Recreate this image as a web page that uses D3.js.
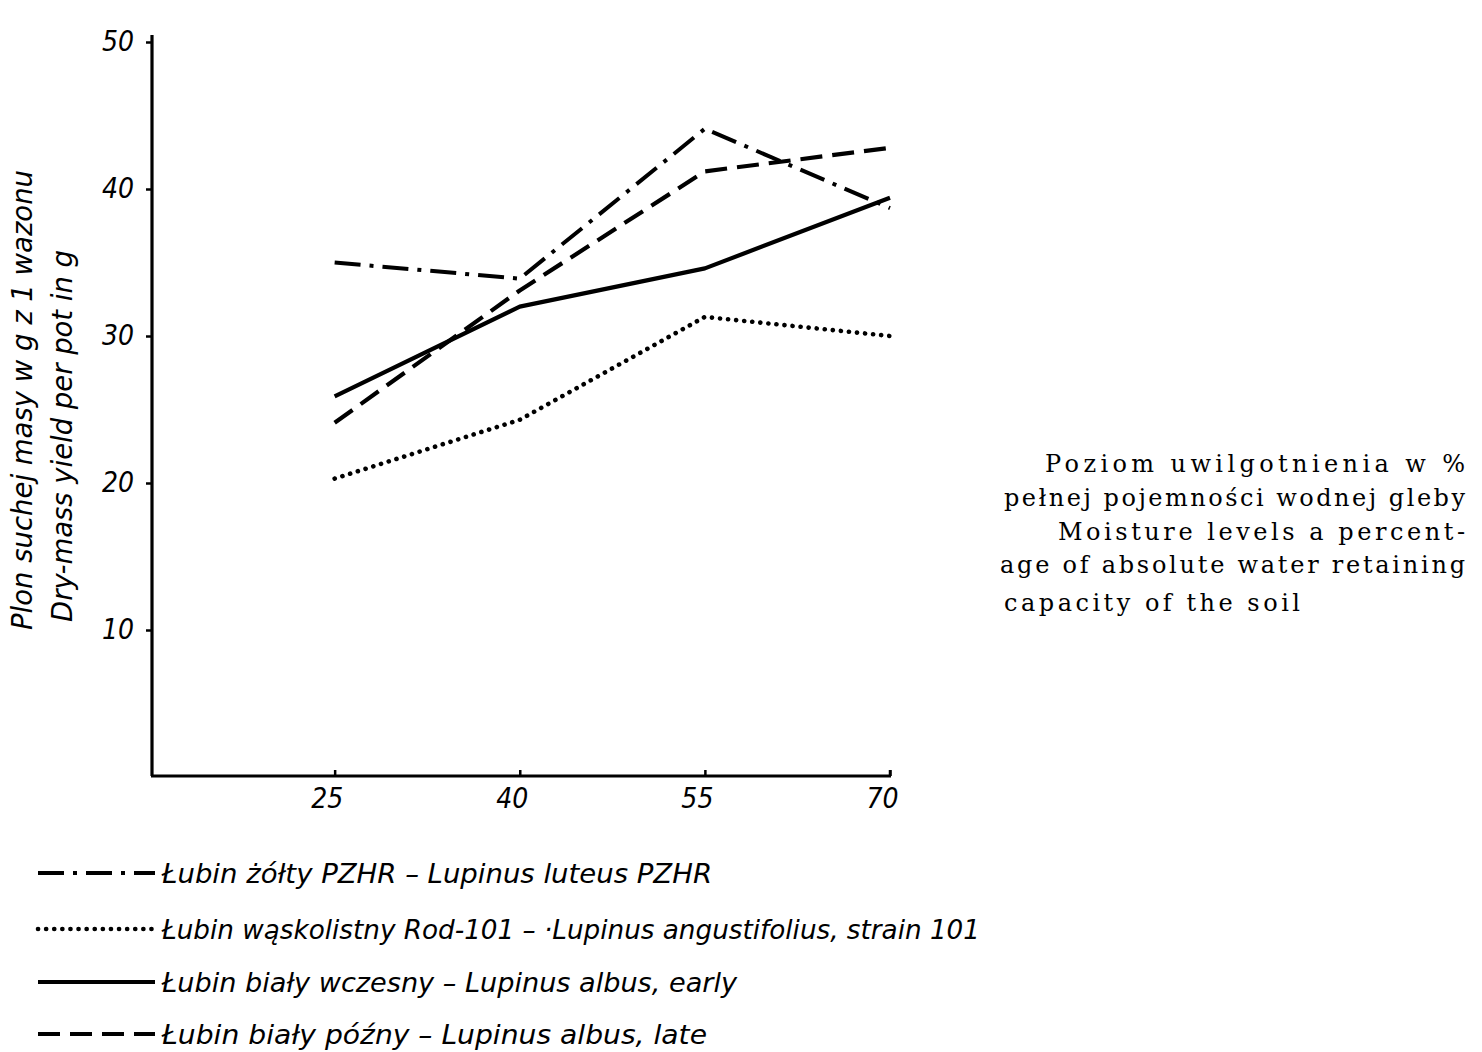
<!DOCTYPE html>
<html><head><meta charset="utf-8">
<script src="https://cdn.jsdelivr.net/npm/d3@7"></script>
<style>body{margin:0;background:#fff}</style>
</head><body>
<svg id="c" width="1482" height="1052"></svg>
<script>
const moisture = [25, 40, 55, 70];
const xTicks = [25, 40, 55, 70];
const yTicks = [10, 20, 30, 40, 50];
const yTickLabels = ["10", "20", "30", "40", "50"];
const luteus = [35.0, 33.9, 44.1, 38.7];
const angustifolius = [20.3, 24.3, 31.3, 30.0];
const albusEarly = [25.9, 32.0, 34.6, 39.4];
const albusLate = [24.1, 33.1, 41.2, 42.8];
const seriesNames = [
  "Łubin żółty PZHR – Lupinus luteus PZHR",
  "Łubin wąskolistny Rod-101 – ·Lupinus angustifolius, strain 101",
  "Łubin biały wczesny – Lupinus albus, early",
  "Łubin biały późny – Lupinus albus, late"
];
const yTitle = ["Plon suchej masy w g z 1 wazonu", "Dry-mass yield per pot in g"];
const xTitle = ["Poziom uwilgotnienia w %", "pełnej pojemności wodnej gleby", "Moisture levels a percent-", "age of absolute water retaining", "capacity of the soil"];

const svg = d3.select("#c");
const x = d3.scaleLinear().domain([10.2, 70]).range([152, 890]);
const y = d3.scaleLinear().domain([0, 50]).range([777, 42]);
const font = "'DejaVu Sans Condensed', 'Liberation Sans Narrow', sans-serif";

const styles = [
  {dash: "26,9,4,9", cap: "butt", w: 4},
  {dash: "0.1,8", cap: "round", w: 4.6},
  {dash: null, cap: "butt", w: 4.2},
  {dash: "22,10", cap: "butt", w: 4.2}
];
const data = [luteus, angustifolius, albusEarly, albusLate];

// axes
const yAxis = d3.axisLeft(y).tickValues(yTicks).tickFormat((d,i)=>yTickLabels[i]).tickSize(6).tickSizeOuter(0);
const gy = svg.append("g").attr("transform", "translate(152,0)").call(yAxis);
gy.select(".domain").remove();
gy.append("line").attr("x1",0).attr("x2",0).attr("y1",35).attr("y2",776).attr("stroke","#000").attr("stroke-width",3.2);
gy.selectAll(".tick line").attr("stroke","#000").attr("stroke-width",2.5);
gy.selectAll(".tick text").attr("x",-18).attr("dy","0.3em").attr("font-family",font).attr("font-style","italic")
  .attr("font-size",28).attr("fill","#000");

const xAxis = d3.axisBottom(x).tickValues(xTicks).tickSize(6).tickSizeOuter(0);
const gx = svg.append("g").attr("transform", "translate(0,776)").call(xAxis);
gx.select(".domain").remove();
gx.append("line").attr("x1",151).attr("x2",891).attr("y1",0).attr("y2",0).attr("stroke","#000").attr("stroke-width",3.2);
gx.append("line").attr("x1",890).attr("x2",890).attr("y1",0).attr("y2",-6).attr("stroke","#000").attr("stroke-width",2.5);
gx.selectAll(".tick line").attr("stroke","#000").attr("stroke-width",2.5).attr("y2",-6);
gx.selectAll(".tick text").attr("y",12).attr("dy","0.71em").attr("font-family",font).attr("font-style","italic")
  .attr("font-size",28).attr("fill","#000").attr("dx",-8);

// y title
const ytPos = [{b:630, len:460, base:32}, {b:622, len:372, base:72}];
yTitle.forEach((t,i)=>{
  svg.append("text").attr("transform",`translate(${ytPos[i].base},${ytPos[i].b}) rotate(-90)`)
    .attr("text-anchor","start").attr("font-family",font).attr("font-style","italic").attr("font-size",28)
    .attr("fill","#000").attr("textLength",ytPos[i].len).attr("lengthAdjust","spacingAndGlyphs").text(t);
});

// lines
const line = d3.line().x((d,i)=>x(moisture[i])).y(d=>y(d));
data.forEach((s,k)=>{
  svg.append("path").datum(s).attr("d",line).attr("fill","none").attr("stroke","#000")
    .attr("stroke-width",styles[k].w).attr("stroke-dasharray",styles[k].dash)
    .attr("stroke-linecap",styles[k].cap).attr("stroke-linejoin","round");
});

// legend
const legY = [873, 929, 982, 1034];
const legLen = [550, 818, 575, 545];
const leg = svg.append("g");
seriesNames.forEach((n,k)=>{
  leg.append("line").attr("x1",38).attr("x2",155).attr("y1",legY[k]).attr("y2",legY[k])
    .attr("stroke","#000").attr("stroke-width",styles[k].w).attr("stroke-dasharray",styles[k].dash)
    .attr("stroke-linecap",styles[k].cap);
  leg.append("text").attr("x",162).attr("y",legY[k]+10).attr("font-family",font).attr("font-style","italic")
    .attr("font-size",27).attr("fill","#000").attr("textLength",legLen[k]).attr("lengthAdjust","spacingAndGlyphs").text(n);
});

// x title block (right)
const xt = svg.append("g");
const lines = [
  {x:1045, y:472, len:420},
  {x:1004, y:506, len:461},
  {x:1058, y:540, len:407},
  {x:1000, y:573, len:465},
  {x:1004, y:611, len:296}
];
xTitle.forEach((t,i)=>{
  xt.append("text").attr("x",lines[i].x).attr("y",lines[i].y)
    .attr("font-family","'DejaVu Serif','Liberation Serif',serif").attr("font-size",24).attr("fill","#000")
    .attr("textLength",lines[i].len).attr("lengthAdjust","spacing").text(t);
});
</script>
</body></html>
